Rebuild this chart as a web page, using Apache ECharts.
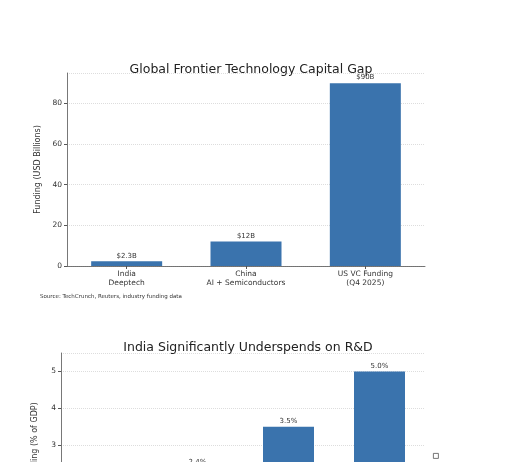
<!DOCTYPE html>
<html lang="en">
<head>
  <meta charset="UTF-8" />
  <title>Capital Gap</title>
  <script src="https://cdn.jsdelivr.net/npm/echarts@6.0.0/dist/echarts.min.js"></script>
  <style>
    html, body { margin: 0; padding: 0; background: #fff; overflow: hidden; }
  </style>
</head>
<body>
  <div id="chart-container" style="width: 507px; height: 620px"></div>
  <script>
    // chart 1: funding
    var fundCategories = ["India\nDeeptech", "China\nAI + Semiconductors", "US VC Funding\n(Q4 2025)"];
    var fundValues = [2.3, 12, 90];
    var fundLabels = ["$2.3B", "$12B", "$90B"];
    var fundTicks = [0, 20, 40, 60, 80];

    // chart 2: R&D spend (bottom part is cut off in the picture)
    var rdCategories = ["India", "China", "US", "South Korea"];
    var rdValues = [0.65, 2.4, 3.5, 5.0];
    var rdLabels = ["0.65%", "2.4%", "3.5%", "5.0%"];

    var barColor = "#3a73ad";
    var font = "DejaVu Sans";

    function yAxisBase(gridIndex, max, interval, name) {
      return {
        type: "value", gridIndex: gridIndex, min: 0, max: max, interval: interval,
        name: name, nameLocation: "middle", nameGap: 22,
        nameTextStyle: { fontFamily: font, fontSize: 8, color: "#333" },
        axisLine: { show: true, lineStyle: { color: "#555", width: 0.8 } },
        axisTick: { show: true, length: 3, lineStyle: { color: "#555" } },
        axisLabel: { fontFamily: font, fontSize: 7.5, color: "#333", margin: 5,
          showMaxLabel: false },
        splitLine: { show: true, lineStyle: { color: "#ddd", type: "dotted" } }
      };
    }

    function xAxisBase(gridIndex, cats) {
      return {
        type: "category", gridIndex: gridIndex, data: cats,
        axisLine: { lineStyle: { color: "#555", width: 0.8 } },
        axisTick: { show: true, length: 3, alignWithLabel: true, lineStyle: { color: "#555" } },
        axisLabel: { fontFamily: font, fontSize: 7.5, color: "#333", margin: 4, lineHeight: 9 }
      };
    }

    var chart = echarts.init(document.getElementById("chart-container"), null, { renderer: "canvas" });
    chart.setOption({
      animation: false,
      title: [
        { text: "Global Frontier Technology Capital Gap", left: 246, top: 58, textAlign: "center",
          textStyle: { fontFamily: font, fontSize: 12.5, fontWeight: "normal", color: "#222" } },
        { text: "India Significantly Underspends on R&D", left: 243, top: 336, textAlign: "center",
          textStyle: { fontFamily: font, fontSize: 12.5, fontWeight: "normal", color: "#222" } }
      ],
      grid: [
        { left: 67, top: 73, width: 358, height: 193 },
        { left: 61, top: 353, width: 364, height: 203 }
      ],
      xAxis: [xAxisBase(0, fundCategories), xAxisBase(1, rdCategories)],
      yAxis: [
        yAxisBase(0, 95, 20, "Funding (USD Billions)"),
        yAxisBase(1, 5.5, 1, "R&D Spending (% of GDP)")
      ],
      series: [
        { type: "bar", xAxisIndex: 0, yAxisIndex: 0, data: fundValues, barWidth: 71,
          itemStyle: { color: barColor },
          label: { show: true, position: "top", distance: 2, fontFamily: font, fontSize: 7, color: "#333",
            formatter: function (p) { return fundLabels[p.dataIndex]; } } },
        { type: "bar", xAxisIndex: 1, yAxisIndex: 1, data: rdValues, barWidth: 51,
          itemStyle: { color: barColor },
          label: { show: true, position: "top", distance: 2, fontFamily: font, fontSize: 7, color: "#333",
            formatter: function (p) { return rdLabels[p.dataIndex]; } } }
      ],
      graphic: [
        { type: "text", left: 40, top: 294,
          style: { text: "Source: TechCrunch, Reuters, industry funding data", fontFamily: font, fontSize: 5.5, fill: "#333" } },
        { type: "rect", left: 433, top: 453, shape: { width: 5, height: 5 },
          style: { fill: "#fff", stroke: "#555", lineWidth: 0.8 } }
      ]
    });
  </script>
</body>
</html>
